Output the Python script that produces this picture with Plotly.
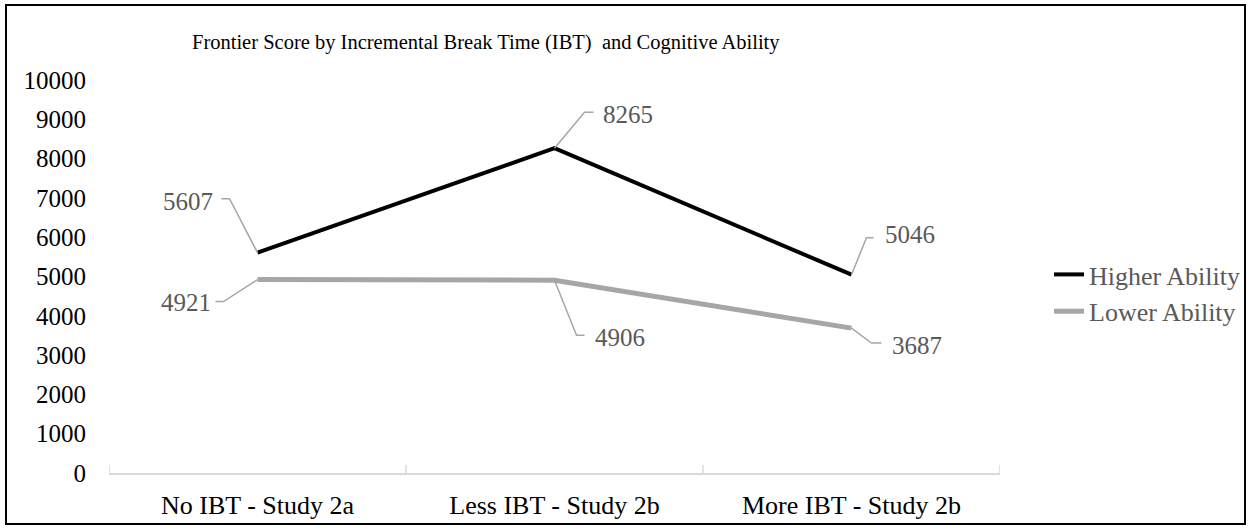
import plotly.graph_objects as go

# data
categories = ["No IBT - Study 2a", "Less IBT - Study 2b", "More IBT - Study 2b"]
higher = [5607, 8265, 5046]
lower = [4921, 4906, 3687]
y_ticks = list(range(0, 10001, 1000))

# label placement (pixel offsets from the point: elbow, end of leader, text)
higher_lbl = [(-28, 54, -36, 54, -43, 51, "right"),
              (30, 36, 39, 36, 46, 34, "left"),
              (15, 37, 22, 37, 31, 40, "left")]
lower_lbl = [(-34, -22, -42, -22, -45, -23, "right"),
             (22, -55, 30, -55, 38, -57, "left"),
             (20, -15, 30, -15, 38, -17, "left")]

FONT = "Liberation Serif"
W, H = 1251, 529
L, R, T, B = 109, 251, 80, 56
pw, ph = W - L - R, H - T - B

fig = go.Figure()
fig.add_trace(go.Scatter(x=categories, y=higher, mode="lines", name="Higher Ability",
                         line=dict(color="#000000", width=4)))
fig.add_trace(go.Scatter(x=categories, y=lower, mode="lines", name="Lower Ability",
                         line=dict(color="#a6a6a6", width=5)))

shapes = []
annotations = []
for vals, lbls in [(higher, higher_lbl), (lower, lower_lbl)]:
    for cat, v, (ex, ey, lx, ly, tx, ty, anc) in zip(categories, vals, lbls):
        shapes.append(dict(type="path", xref="x", yref="y", xsizemode="pixel", ysizemode="pixel",
                           xanchor=cat, yanchor=v,
                           path=f"M0,0 L{ex},{ey} L{lx},{ly}",
                           line=dict(color="#a6a6a6", width=1.5)))
        annotations.append(dict(x=cat, y=v, xref="x", yref="y", text=str(v), showarrow=False,
                                xanchor=anc, yanchor="middle", xshift=tx, yshift=ty,
                                font=dict(family=FONT, size=25, color="#595959")))

# x axis cross ticks at category boundaries
for b in [-0.5, 0.5, 1.5, 2.5]:
    shapes.append(dict(type="line", xref="x", yref="y", ysizemode="pixel", yanchor=0,
                       x0=b, x1=b, y0=-8, y1=8, line=dict(color="#d9d9d9", width=1.5)))

# chart border
shapes.append(dict(type="rect", xref="paper", yref="paper",
                   x0=(6 - L) / pw, x1=(1245 - L) / pw,
                   y0=(H - B - 524) / ph, y1=(H - B - 5) / ph,
                   line=dict(color="#000000", width=2)))

fig.update_layout(
    width=W, height=H,
    margin=dict(l=L, r=R, t=T, b=B, autoexpand=False),
    paper_bgcolor="white", plot_bgcolor="white",
    font=dict(family=FONT, size=25, color="#000000"),
    title=dict(text="Frontier Score by Incremental Break Time (IBT)  and Cognitive Ability",
               xref="container", yref="container", x=192 / W, y=1 - 42 / H,
               xanchor="left", yanchor="middle",
               font=dict(family=FONT, size=20.5, color="#000000")),
    xaxis=dict(type="category", range=[-0.5, 2.5], showgrid=False, zeroline=False,
               showline=True, linecolor="#d9d9d9", linewidth=1.5, ticks="",
               ticklabelstandoff=8, tickfont=dict(size=26)),
    yaxis=dict(range=[0, 10000], tickvals=y_ticks, tickformat="d", showgrid=False,
               zeroline=False, showline=False, ticks="", ticklabelstandoff=22,
               tickfont=dict(size=25)),
    legend=dict(x=(1049 - L) / pw, y=(H - B - 293) / ph, xanchor="left", yanchor="middle",
                font=dict(family=FONT, size=26, color="#595959"), itemwidth=30,
                tracegroupgap=0, bgcolor="rgba(0,0,0,0)"),
    shapes=shapes,
    annotations=annotations,
)

fig.write_html("out.html", config={"displayModeBar": False},
               post_script="document.body.style.margin='0';")
